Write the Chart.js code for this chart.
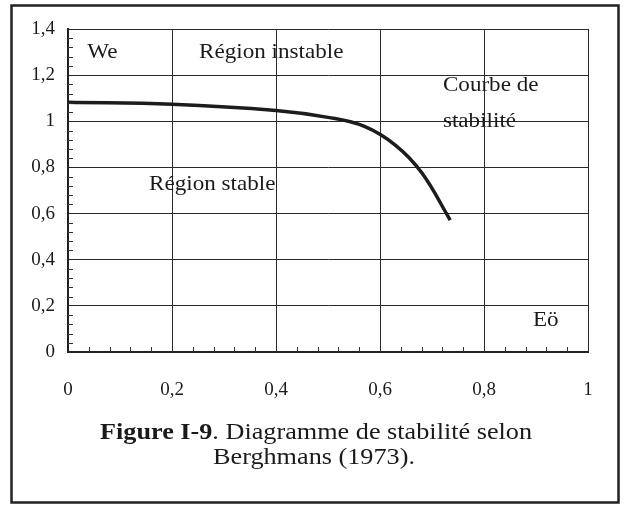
<!DOCTYPE html>
<html>
<head>
<meta charset="utf-8">
<script src="https://cdn.jsdelivr.net/npm/chart.js@4/dist/chart.umd.min.js"></script>
<style>
html,body{margin:0;padding:0;background:#fff;}
#wrap{width:624px;height:505px;}
</style>
</head>
<body>
<div id="wrap"><canvas id="c" width="624" height="505"></canvas></div>
<script>
// Data (Eö on x, We on y)
const eoValues = [0, 0.2, 0.4, 0.5, 0.57, 0.63, 0.68, 0.735];
const weValues = [1.082, 1.074, 1.047, 1.017, 0.978, 0.896, 0.778, 0.572];
const xTickLabels = ['0', '0,2', '0,4', '0,6', '0,8', '1'];
const yTickLabels = ['0', '0,2', '0,4', '0,6', '0,8', '1', '1,2', '1,4'];
const annotations = [
  {text: 'We', x: 0.037, y: 1.30},
  {text: 'Région instable', x: 0.252, y: 1.30},
  {text: 'Région stable', x: 0.156, y: 0.725},
  {text: 'Courbe de', x: 0.721, y: 1.157},
  {text: 'stabilité', x: 0.721, y: 0.997},
  {text: 'Eö', x: 0.894, y: 0.135}
];
const captionBold = 'Figure I-9';
const captionRest = '. Diagramme de stabilité selon';
const captionLine2 = 'Berghmans (1973).';

const points = eoValues.map((x, i) => ({x: x, y: weValues[i]}));
const SERIF = '"Liberation Serif", "Times New Roman", serif';

const decor = {
  id: 'decor',
  beforeDraw(chart) {
    const ctx = chart.ctx;
    ctx.save();
    ctx.fillStyle = '#fff';
    ctx.fillRect(0, 0, chart.width, chart.height);
    ctx.restore();
  },
  afterDatasetsDraw(chart) {
    const ctx = chart.ctx;
    const xs = chart.scales.x, ys = chart.scales.y;
    const a = chart.chartArea;
    ctx.save();
    // minor ticks
    ctx.strokeStyle = '#333';
    ctx.lineWidth = 1;
    ctx.beginPath();
    for (let i = 1; i < 35; i++) {
      if (i % 5 === 0) continue;
      const py = Math.round(ys.getPixelForValue(i * 0.04)) + 0.5;
      ctx.moveTo(a.left, py); ctx.lineTo(a.left + 5, py);
    }
    for (let i = 1; i < 25; i++) {
      if (i % 5 === 0) continue;
      const px = Math.round(xs.getPixelForValue(i * 0.04)) + 0.5;
      ctx.moveTo(px, a.bottom); ctx.lineTo(px, a.bottom - 5);
    }
    ctx.stroke();
    // annotations
    ctx.fillStyle = '#1a1a1a';
    ctx.textBaseline = 'middle';
    ctx.textAlign = 'left';
    ctx.font = '21px ' + SERIF;
    annotations.forEach(t => {
      const px = xs.getPixelForValue(t.x), py = ys.getPixelForValue(t.y);
      ctx.save();
      ctx.translate(px, py);
      ctx.scale(1.1, 1);
      ctx.fillText(t.text, 0, 0);
      ctx.restore();
    });
    // caption
    const sx = 1.14;
    ctx.font = 'bold 23px ' + SERIF;
    const wb = ctx.measureText(captionBold).width;
    ctx.font = '23px ' + SERIF;
    const wr = ctx.measureText(captionRest).width;
    const total = (wb + wr) * sx;
    const cx = 316;
    ctx.save();
    ctx.translate(cx - total / 2, 433);
    ctx.scale(sx, 1);
    ctx.font = 'bold 23px ' + SERIF;
    ctx.fillText(captionBold, 0, 0);
    ctx.font = '23px ' + SERIF;
    ctx.fillText(captionRest, wb, 0);
    ctx.restore();
    const w2 = ctx.measureText(captionLine2).width * sx;
    ctx.save();
    ctx.translate(314 - w2 / 2, 458);
    ctx.scale(sx, 1);
    ctx.fillText(captionLine2, 0, 0);
    ctx.restore();
    // outer frame
    ctx.strokeStyle = '#222';
    ctx.lineWidth = 2.5;
    ctx.strokeRect(11.5, 5.5, 607, 497);
    ctx.restore();
  }
};

new Chart(document.getElementById('c'), {
  type: 'scatter',
  data: {
    datasets: [{
      data: points,
      showLine: true,
      borderColor: '#1c1c1c',
      borderWidth: 3.5,
      pointRadius: 0,
      tension: 0.4,
      fill: false
    }]
  },
  options: {
    responsive: false,
    animation: false,
    devicePixelRatio: 1,
    layout: {padding: {left: 0, top: 29, right: 36, bottom: 0}},
    plugins: {legend: {display: false}, tooltip: {enabled: false}},
    scales: {
      x: {
        type: 'linear', min: 0, max: 1,
        afterFit(s) { s.height = 153; },
        grid: {color: '#2a2a2a', lineWidth: 1, drawTicks: false},
        border: {color: '#222', width: 2},
        ticks: {
          stepSize: 0.2, padding: 27, color: '#1a1a1a', maxRotation: 0,
          font: {family: SERIF, size: 19},
          callback: (v, i) => xTickLabels[i]
        }
      },
      y: {
        type: 'linear', min: 0, max: 1.4,
        afterFit(s) { s.width = 68; },
        grid: {color: '#2a2a2a', lineWidth: 1, drawTicks: false},
        border: {color: '#222', width: 2},
        ticks: {
          stepSize: 0.2, padding: 13, color: '#1a1a1a',
          font: {family: SERIF, size: 19},
          callback: (v, i) => yTickLabels[i]
        }
      }
    }
  },
  plugins: [decor]
});
</script>
</body>
</html>
